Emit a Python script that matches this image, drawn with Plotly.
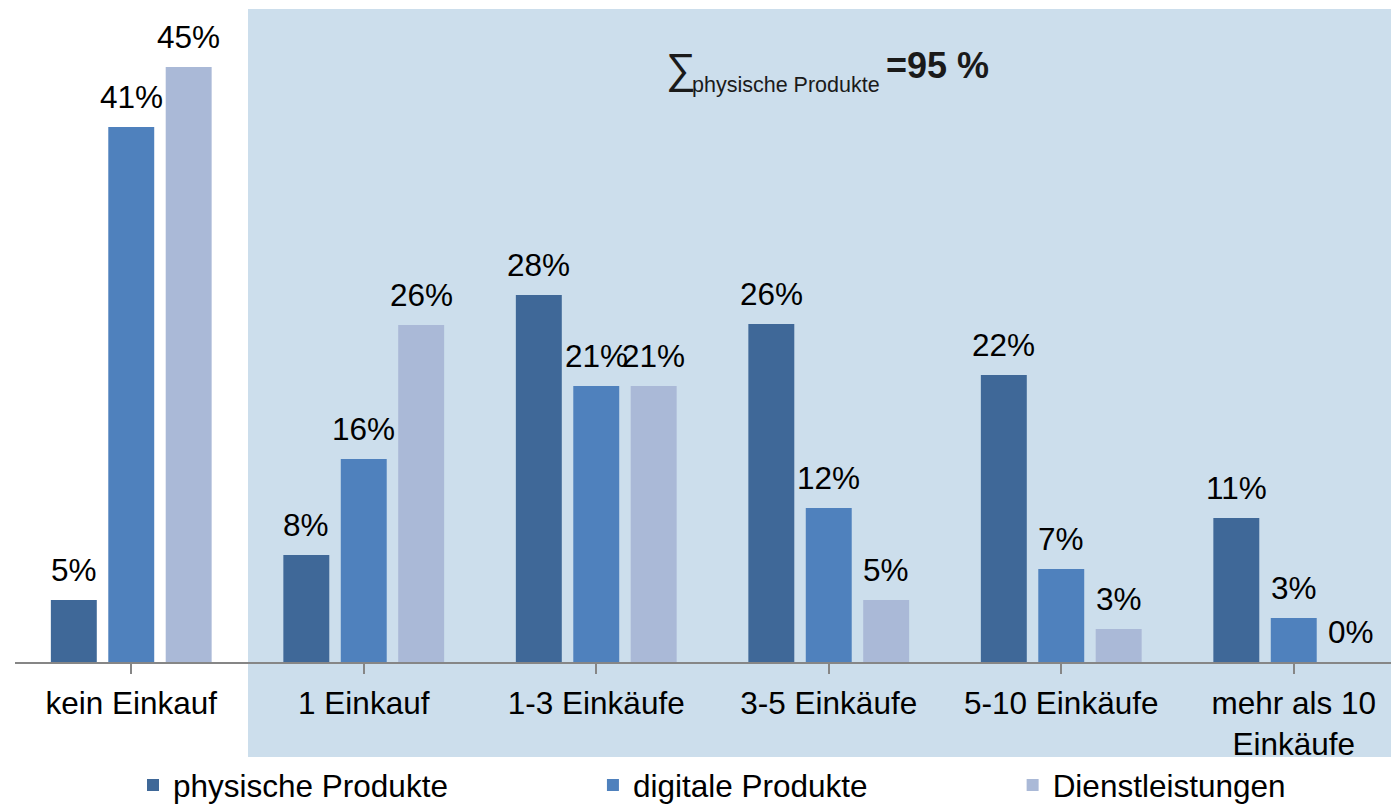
import plotly.graph_objects as go

categories = ["kein Einkauf", "1 Einkauf", "1-3 Einkäufe", "3-5 Einkäufe", "5-10 Einkäufe", "mehr als 10<br>Einkäufe"]
series_names = ["physische Produkte", "digitale Produkte", "Dienstleistungen"]
physische = [4.74, 8.17, 28.04, 25.82, 21.93, 11.00]
digitale = [40.87, 15.51, 21.08, 11.76, 7.10, 3.36]
dienst = [45.45, 25.74, 21.08, 4.74, 2.52, 0.0]
physische_lbl = ["5%", "8%", "28%", "26%", "22%", "11%"]
digitale_lbl = ["41%", "16%", "21%", "12%", "7%", "3%"]
dienst_lbl = ["45%", "26%", "21%", "5%", "3%", "0%"]
colors = ["#3F6898", "#4F81BD", "#AAB9D7"]

FONT = "Liberation Sans, Arial, sans-serif"
FS = 31.5
W, H = 1391, 805
ML, MT, MB = 15, 9, 143
PW = W - ML
PH = H - MT - MB
CAT_PX = 232.5
PX_PER_PCT = 13.09

series = [physische, digitale, dienst]
labels = [physische_lbl, digitale_lbl, dienst_lbl]

fig = go.Figure()
pad = "\u00a0" * 16
for k, (name, vals) in enumerate(zip(series_names, series)):
    legend_name = name + (pad if k < 2 else "")
    fig.add_trace(go.Bar(
        x=list(range(len(categories))), y=vals, name=legend_name,
        marker=dict(color=colors[k], line=dict(width=0)),
        hoverinfo="skip",
    ))

bargap = 0.259
slot = (1 - bargap) / 3
annotations = []
for k in range(3):
    for i, (v, t) in enumerate(zip(series[k], labels[k])):
        annotations.append(dict(
            x=i + (k - 1) * slot, y=v, xref="x", yref="y", text=t,
            showarrow=False, xanchor="center", yanchor="bottom", yshift=10,
            font=dict(family=FONT, size=FS, color="#000000"),
        ))

def px2x(px):
    return (px - ML) / PW

def py2y(py):
    return (MT + PH - py) / PH

annotations += [
    dict(x=px2x(664), y=py2y(94), xref="paper", yref="paper", text="∑",
         showarrow=False, xanchor="left", yanchor="bottom",
         font=dict(family=FONT, size=42, color="#1a1a1a")),
    dict(x=px2x(690), y=py2y(99), xref="paper", yref="paper", text="physische Produkte",
         showarrow=False, xanchor="left", yanchor="bottom",
         font=dict(family=FONT, size=21.5, color="#1a1a1a")),
    dict(x=px2x(884), y=py2y(87.5), xref="paper", yref="paper", text="<b>=95 %</b>",
         showarrow=False, xanchor="left", yanchor="bottom",
         font=dict(family=FONT, size=36, color="#1a1a1a")),
]

fig.add_shape(type="rect", xref="paper", yref="paper",
              x0=px2x(248), x1=1.02, y0=py2y(757), y1=py2y(9),
              fillcolor="#CCDEEC", line=dict(width=0), layer="below")

fig.update_layout(
    width=W, height=H,
    margin=dict(l=ML, r=0, t=MT, b=MB, pad=0, autoexpand=False),
    paper_bgcolor="#FFFFFF", plot_bgcolor="rgba(0,0,0,0)",
    barmode="group", bargap=bargap, bargroupgap=0.2,
    font=dict(family=FONT, size=FS, color="#000000"),
    showlegend=True,
    legend=dict(orientation="h", x=px2x(133), xanchor="left",
                yref="container", y=(H - 785) / H, yanchor="middle",
                font=dict(family=FONT, size=FS, color="#000000"),
                bgcolor="rgba(0,0,0,0)", traceorder="normal"),
    annotations=annotations,
    xaxis=dict(
        tickmode="array", tickvals=list(range(len(categories))), ticktext=categories,
        range=[-0.5, -0.5 + PW / CAT_PX],
        showline=True, linecolor="#868686", linewidth=2,
        ticks="outside", ticklen=10, tickwidth=2, tickcolor="#868686",
        tickson="boundaries", showgrid=False, zeroline=False,
        ticklabelstandoff=2, automargin=False,
        tickfont=dict(family=FONT, size=FS, color="#000000"),
    ),
    yaxis=dict(range=[0, PH / PX_PER_PCT], visible=False, showgrid=False, zeroline=False),
)

fig.write_html("out.html")
